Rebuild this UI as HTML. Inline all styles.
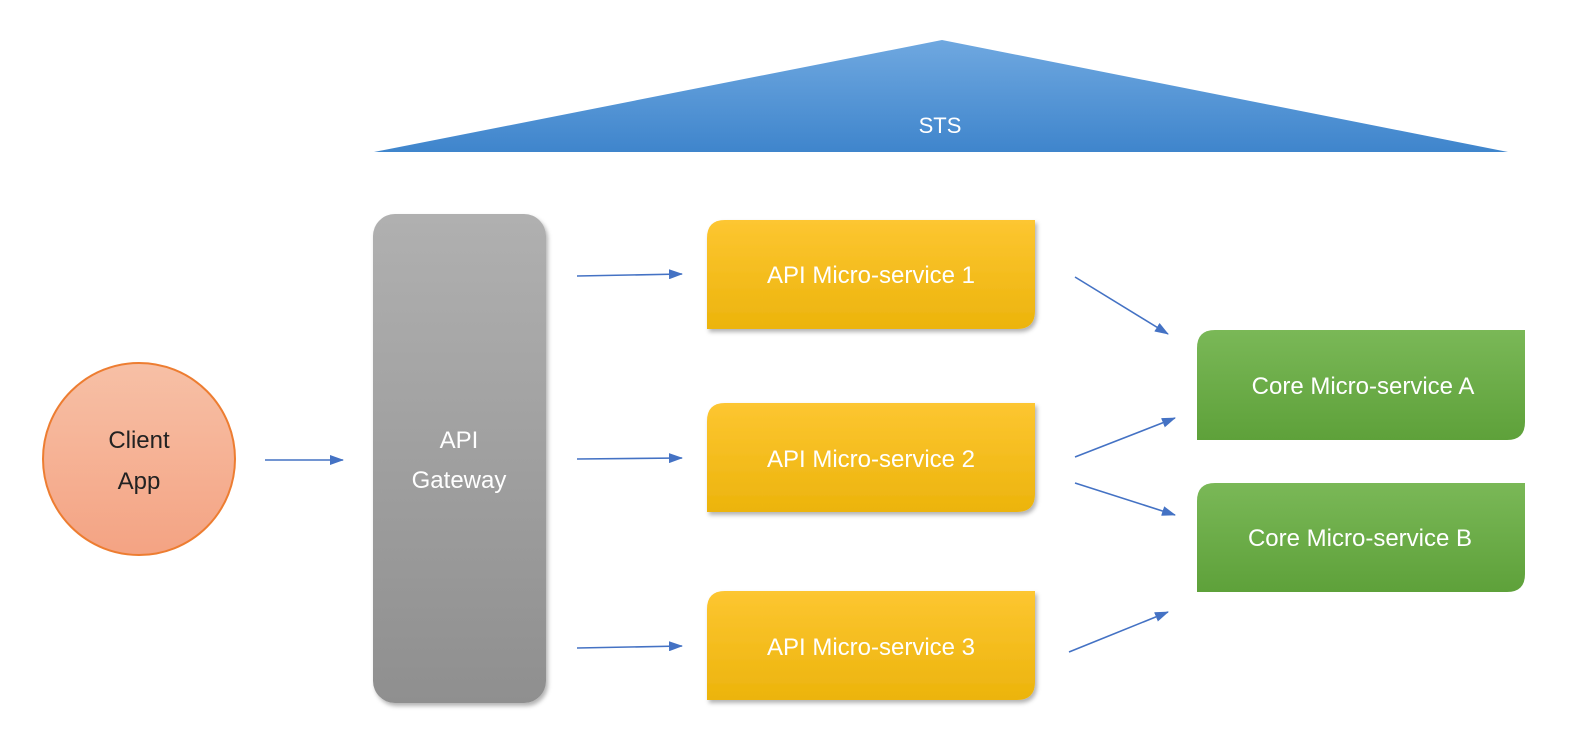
<!DOCTYPE html>
<html><head><style>
html,body{margin:0;padding:0;background:#fff;}
body{width:1580px;height:746px;overflow:hidden;position:relative;font-family:"Liberation Sans",sans-serif;}
</style></head><body>
<svg width="1580" height="746" style="position:absolute;left:0;top:0" font-family="Liberation Sans, sans-serif">
<defs>
<linearGradient id="tri" x1="0" y1="0" x2="0" y2="1"><stop offset="0" stop-color="#6fa8e0"/><stop offset="1" stop-color="#3f85cc"/></linearGradient>
<linearGradient id="gw" x1="0" y1="0" x2="0" y2="1"><stop offset="0" stop-color="#b0b0b0"/><stop offset="1" stop-color="#8f8f8f"/></linearGradient>
<linearGradient id="yl" x1="0" y1="0" x2="0" y2="1"><stop offset="0" stop-color="#fdc631"/><stop offset="1" stop-color="#ecb40c"/></linearGradient>
<linearGradient id="gr" x1="0" y1="0" x2="0" y2="1"><stop offset="0" stop-color="#7ab857"/><stop offset="1" stop-color="#5ea13a"/></linearGradient>
<linearGradient id="ci" x1="0" y1="0" x2="0" y2="1"><stop offset="0" stop-color="#f7c0a6"/><stop offset="1" stop-color="#f4a383"/></linearGradient>
<marker id="ah" markerWidth="14" markerHeight="10" refX="13" refY="5" orient="auto" markerUnits="userSpaceOnUse"><path d="M0,0 L14,5 L0,10 z" fill="#4472c4"/></marker>
<filter id="sh" x="-5%" y="-5%" width="115%" height="120%"><feDropShadow dx="2" dy="3" stdDeviation="2" flood-color="#000" flood-opacity="0.3"/></filter>
</defs>
<polygon points="374,152 942,40 1508,152" fill="url(#tri)"/>
<text x="940" y="133" font-size="22" fill="#fff" text-anchor="middle">STS</text>

<circle cx="139" cy="459" r="96" fill="url(#ci)" stroke="#ed7d31" stroke-width="2"/>
<text x="139" y="448" font-size="24" fill="#222" text-anchor="middle">Client</text>
<text x="139" y="489" font-size="24" fill="#222" text-anchor="middle">App</text>

<rect x="373" y="214" width="173" height="489" rx="22" fill="url(#gw)" filter="url(#sh)"/>
<text x="459" y="448" font-size="24" fill="#fff" text-anchor="middle">API</text>
<text x="459" y="488" font-size="24" fill="#fff" text-anchor="middle">Gateway</text>

<g filter="url(#sh)">
<path d="M725,220 H1035 V311 Q1035,329 1017,329 H707 V238 Q707,220 725,220 Z" fill="url(#yl)"/>
<path d="M725,403 H1035 V494 Q1035,512 1017,512 H707 V421 Q707,403 725,403 Z" fill="url(#yl)"/>
<path d="M725,591 H1035 V682 Q1035,700 1017,700 H707 V609 Q707,591 725,591 Z" fill="url(#yl)"/>
</g>
<text x="871" y="283" font-size="24" fill="#fff" text-anchor="middle">API Micro-service 1</text>
<text x="871" y="467" font-size="24" fill="#fff" text-anchor="middle">API Micro-service 2</text>
<text x="871" y="655" font-size="24" fill="#fff" text-anchor="middle">API Micro-service 3</text>

<path d="M1215,330 H1525 V422 Q1525,440 1507,440 H1197 V348 Q1197,330 1215,330 Z" fill="url(#gr)"/>
<path d="M1215,483 H1525 V574 Q1525,592 1507,592 H1197 V501 Q1197,483 1215,483 Z" fill="url(#gr)"/>
<text x="1363" y="394" font-size="24" fill="#fff" text-anchor="middle">Core Micro-service A</text>
<text x="1360" y="546" font-size="24" fill="#fff" text-anchor="middle">Core Micro-service B</text>

<g stroke="#4472c4" stroke-width="1.6" marker-end="url(#ah)">
<line x1="265" y1="460" x2="343" y2="460"/>
<line x1="577" y1="276" x2="682" y2="274"/>
<line x1="577" y1="459" x2="682" y2="458"/>
<line x1="577" y1="648" x2="682" y2="646"/>
<line x1="1075" y1="277" x2="1168" y2="334"/>
<line x1="1075" y1="457" x2="1175" y2="418"/>
<line x1="1075" y1="483" x2="1175" y2="515"/>
<line x1="1069" y1="652" x2="1168" y2="612"/>
</g>
</svg>
</body></html>
